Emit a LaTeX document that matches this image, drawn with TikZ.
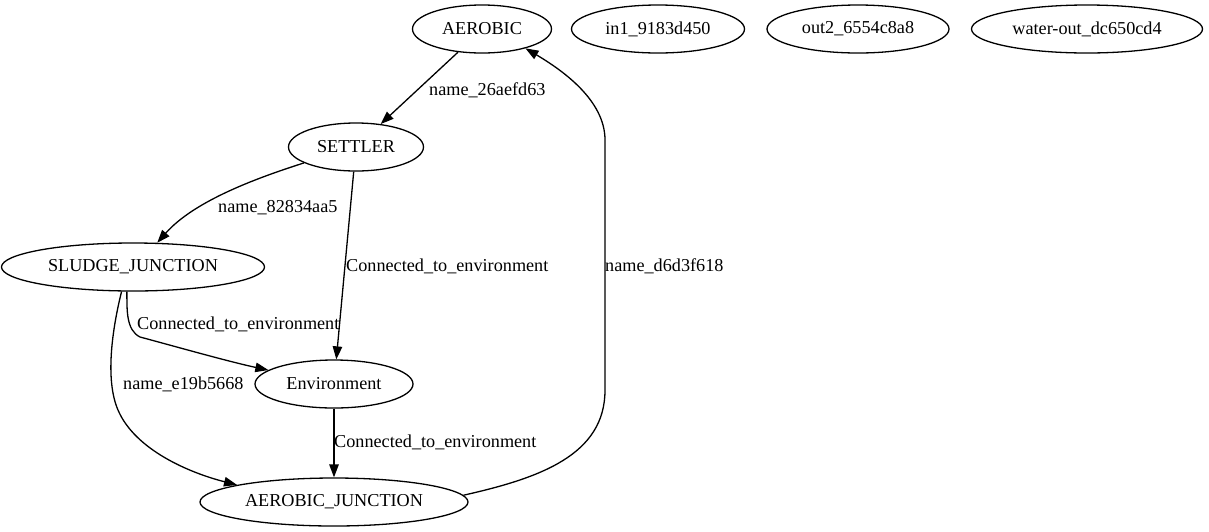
\documentclass[tikz,border=0pt]{standalone}
\usepackage{fontspec}
\setmainfont{Liberation Serif}
\usetikzlibrary{shapes.geometric,arrows.meta}
\begin{document}
\begin{tikzpicture}[x=1pt,y=-1pt,
  every node/.style={font=\fontsize{18.2}{22}\selectfont},
  gnode/.style={draw,ellipse,line width=1.3pt,inner sep=0pt,minimum height=48pt},
  elabel/.style={anchor=west,inner sep=0pt},
  edge/.style={line width=1.3pt,-{Triangle[length=13pt,width=9.5pt]}}]
\useasboundingbox (0,0) rectangle (1209,531);
% nodes
\node[gnode,minimum width=139pt] (aer) at (482,29) {AEROBIC};
\node[gnode,minimum width=173pt] (in1) at (658,29) {in1\_9183d450};
\node[gnode,minimum width=182pt] (out2) at (858,29) {out2\_6554c8a8};
\node[gnode,minimum width=231pt] (wout) at (1087,29) {water-out\_dc650cd4};
\node[gnode,minimum width=135pt] (set) at (356,147) {SETTLER};
\node[gnode,minimum width=263pt] (sludge) at (133,267) {SLUDGE\_JUNCTION};
\node[gnode,minimum width=158pt] (env) at (334,384) {Environment};
\node[gnode,minimum width=268pt] (aj) at (334,502) {AEROBIC\_JUNCTION};
% edges
\draw[edge] (aer.-136) -- (set);
\draw[edge] (set.-163) .. controls (260,177) and (195,200) .. (sludge.45);
\draw[edge] (set) -- (env);
\draw[edge] (sludge.-104) .. controls (127,310) and (126,330) .. (140,337)
  .. controls (170,345) and (230,362) .. (env.168);
\draw[edge] (sludge.-115) .. controls (112,330) and (105,380) .. (118,410)
  .. controls (135,450) and (190,473) .. (aj.170);
\draw[edge] (env) -- (aj);
\draw[edge] (aj.3.5) .. controls (540,478) and (605,455) .. (605,390)
  -- (605,140) .. controls (605,100) and (562,70) .. (aer.-24);
% labels
\node[elabel] (l1) at (429,90) {name\_26aefd63};
\node[elabel] (l2) at (218,208) {name\_82834aa5};
\node[elabel] (l3) at (346,266) {Connected\_to\_environment};
\node[elabel] (l4) at (137,324) {Connected\_to\_environment};
\node[elabel] (l5) at (123,384) {name\_e19b5668};
\node[elabel] (l6) at (334,442) {Connected\_to\_environment};
\node[elabel] (l7) at (605,266) {name\_d6d3f618};
\end{tikzpicture}
\end{document}
